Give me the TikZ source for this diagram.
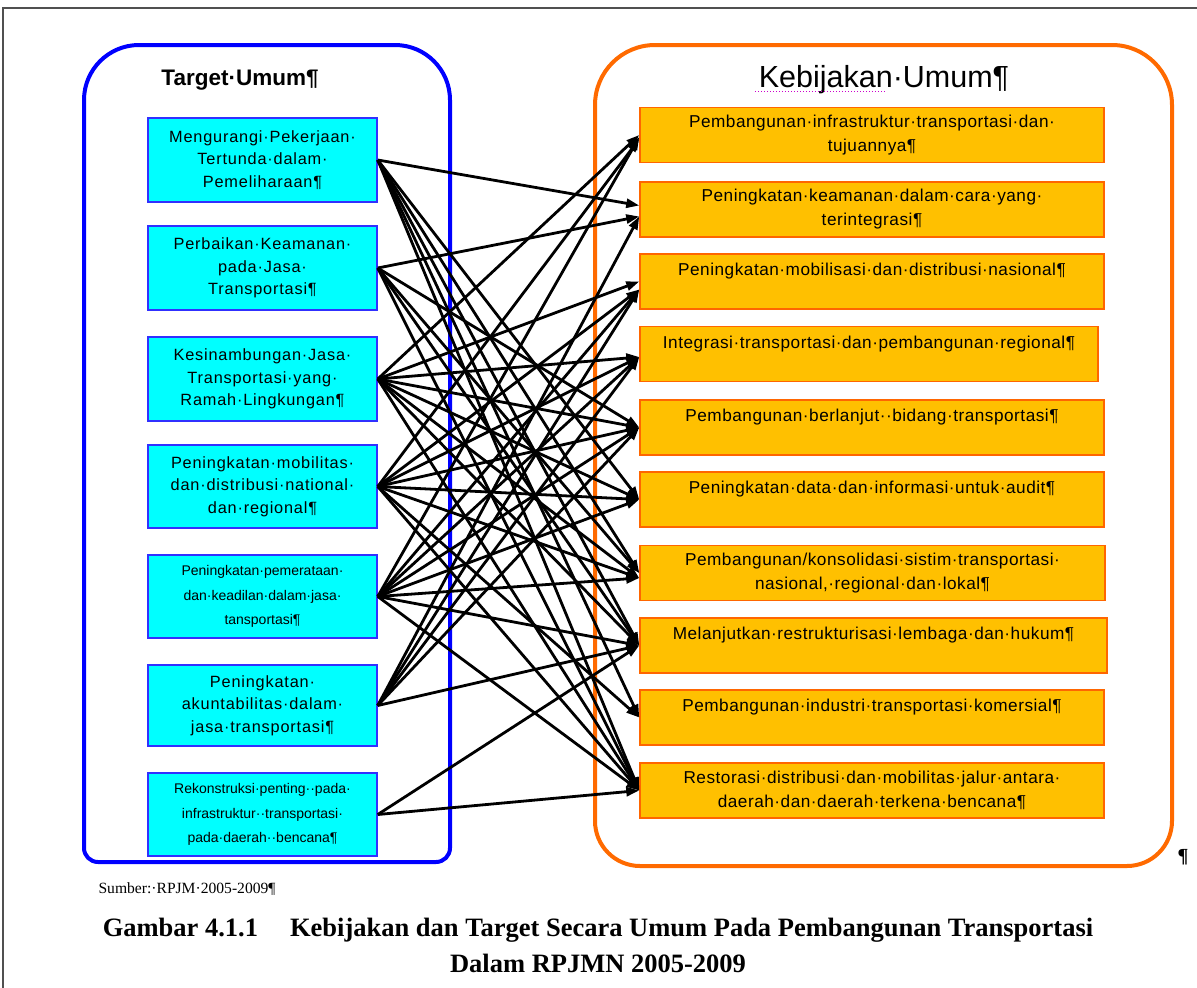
\documentclass[tikz,border=0pt]{standalone}
\usepackage{fontspec}
\setmainfont{Liberation Serif}
\newfontfamily\titlefont{Liberation Sans}
\newfontfamily\goalfont[LetterSpace=5]{Liberation Sans}
\newfontfamily\policyfont[LetterSpace=3]{Liberation Sans}
\usetikzlibrary{arrows.meta}

\definecolor{goalfill}{HTML}{00FFFF}
\definecolor{goaledge}{HTML}{3030FF}
\definecolor{policyfill}{HTML}{FFC000}
\definecolor{policyedge}{HTML}{FF6600}
\definecolor{framegray}{HTML}{505050}
\definecolor{goalpanel}{HTML}{0000FF}
\definecolor{policypanel}{HTML}{FF6A00}
\definecolor{spellmark}{HTML}{CC00CC}

\begin{document}
\begin{tikzpicture}[x=1pt,y=-1pt,
  goal/.style={draw=goaledge, fill=goalfill, line width=1.5pt,
    minimum width=229pt, inner sep=0pt, align=center, text=black,
    font=\goalfont\fontsize{16.3}{22.5}\selectfont},
  goalsmall/.style={goal, font=\titlefont\fontsize{14}{24.5}\selectfont},
  policy/.style={draw=policyedge, fill=policyfill, line width=1.5pt,
    minimum height=55pt, inner sep=0pt, align=center, text=black,
    font=\policyfont\fontsize{17.2}{24}\selectfont},
  panel/.style={line width=4pt},
  link/.style={draw=black, line width=2.8pt,
    -{Triangle[length=13pt,width=9pt]}},
  spell/.style={draw=spellmark, line width=1pt, dotted}
]
\useasboundingbox (0,0) rectangle (1197,988);

% page frame
\draw[framegray, line width=2pt] (3,988) -- (3,8) -- (1197,8);

% the two panels
\draw[panel, goalpanel] (84,460)
  {[rounded corners=14pt] -- (84,862) -- (450,862) -- (450,460)}
  {[rounded corners=55pt] -- (450,45) -- (84,45) -- (84,460)};
\draw[panel, policypanel] (595,460)
  {[rounded corners=45pt] -- (595,866) -- (1172,866) -- (1172,460)}
  {[rounded corners=60pt] -- (1172,45) -- (595,45) -- (595,460)};

% panel titles
\node[font=\titlefont\bfseries\fontsize{22.5}{26}\selectfont] (TU) at (240,80) {Target·Umum¶};
\node[font=\titlefont\fontsize{30.5}{34}\selectfont] (KU) at (884,80) {Kebijakan·Umum¶};
\draw[spell] ([yshift=-4pt]KU.base west) -- ++(130,0);

% targets
\node[goal, minimum height=84pt] (L1) at (262.5,160) {Mengurangi·Pekerjaan·\\Tertunda·dalam·\\Pemeliharaan¶};
\node[goal, minimum height=84pt] (L2) at (262.5,268) {Perbaikan·Keamanan·\\pada·Jasa·\\Transportasi¶};
\node[goal, minimum height=84pt] (L3) at (262.5,379) {Kesinambungan·Jasa·\\Transportasi·yang·\\Ramah·Lingkungan¶};
\node[goal, minimum height=83pt] (L4) at (262.5,486.5) {Peningkatan·mobilitas·\\dan·distribusi·national·\\dan·regional¶};
\node[goalsmall, minimum height=83pt] (L5) at (262.5,596.5) {Peningkatan·pemerataan·\\dan·keadilan·dalam·jasa·\\tansportasi¶};
\node[goal, minimum height=81pt] (L6) at (262.5,705.5) {Peningkatan·\\akuntabilitas·dalam·\\jasa·transportasi¶};
\node[goalsmall, minimum height=83pt] (L7) at (262.5,814.5) {Rekonstruksi·penting··pada·\\infrastruktur··transportasi·\\pada·daerah··bencana¶};

% policies
\node[policy, minimum width=464pt] (R1) at (872,135) {Pembangunan·infrastruktur·transportasi·dan·\\tujuannya¶};
\node[policy, minimum width=464pt] (R2) at (872,209.5) {Peningkatan·keamanan·dalam·cara·yang·\\terintegrasi¶};
\node[policy, minimum width=464pt] (R3) at (872,281.5) {Peningkatan·mobilisasi·dan·distribusi·nasional¶\\\mbox{}};
\node[policy, minimum width=458pt] (R4) at (869,354) {Integrasi·transportasi·dan·pembangunan·regional¶\\\mbox{}};
\node[policy, minimum width=464pt] (R5) at (872,427.5) {Pembangunan·berlanjut··bidang·transportasi¶\\\mbox{}};
\node[policy, minimum width=464pt] (R6) at (872,499.5) {Peningkatan·data·dan·informasi·untuk·audit¶\\\mbox{}};
\node[policy, minimum width=465pt] (R7) at (872.5,573) {Pembangunan/konsolidasi·sistim·transportasi·\\nasional,·regional·dan·lokal¶};
\node[policy, minimum width=467pt] (R8) at (873.5,645.5) {Melanjutkan·restrukturisasi·lembaga·dan·hukum¶\\\mbox{}};
\node[policy, minimum width=464pt] (R9) at (872,717.5) {Pembangunan·industri·transportasi·komersial¶\\\mbox{}};
\node[policy, minimum width=464pt] (R10) at (872,790.5) {Restorasi·distribusi·dan·mobilitas·jalur·antara·\\daerah·dan·daerah·terkena·bencana¶};

% links from targets to policies (third field: vertical offset of the tip, pt)
\foreach \s/\t/\o in {1/2/4,1/6/0,1/7/0,1/8/0,1/9/0,1/10/0,
                   2/2/-7,2/5/0,2/7/0,2/8/0,2/10/0,
                   3/1/0,3/3/0,3/4/-3,3/5/0,3/6/0,3/7/-5,3/8/0,3/10/0,
                   4/1/-4,4/3/-8,4/4/-3,4/5/0,4/6/0,4/7/-5,4/9/0,4/10/0,
                   5/1/-2,5/3/-8,5/4/-3,5/5/0,5/6/0,5/7/-5,5/8/0,5/10/0,
                   6/2/-7,6/3/-8,6/4/-3,6/5/0,6/8/0,
                   7/8/0,7/10/0}
  \draw[link] (L\s.east) -- ([yshift=\o pt]R\t.west);

% source and caption
\node[anchor=base west, font=\fontsize{15.6}{19}\selectfont] (SRC) at (95,893) {Sumber:·RPJM·2005-2009¶};
\node[font=\bfseries\fontsize{26.5}{30}\selectfont] (CAP1) at (598,930) {Gambar 4.1.1\hspace{32pt}Kebijakan dan Target Secara Umum Pada Pembangunan Transportasi};
\node[font=\bfseries\fontsize{26.5}{30}\selectfont] (CAP2) at (598,963) {Dalam RPJMN 2005-2009};
\node[font=\bfseries\fontsize{20}{24}\selectfont] (PIL) at (1183,857) {¶};
\end{tikzpicture}
\end{document}
